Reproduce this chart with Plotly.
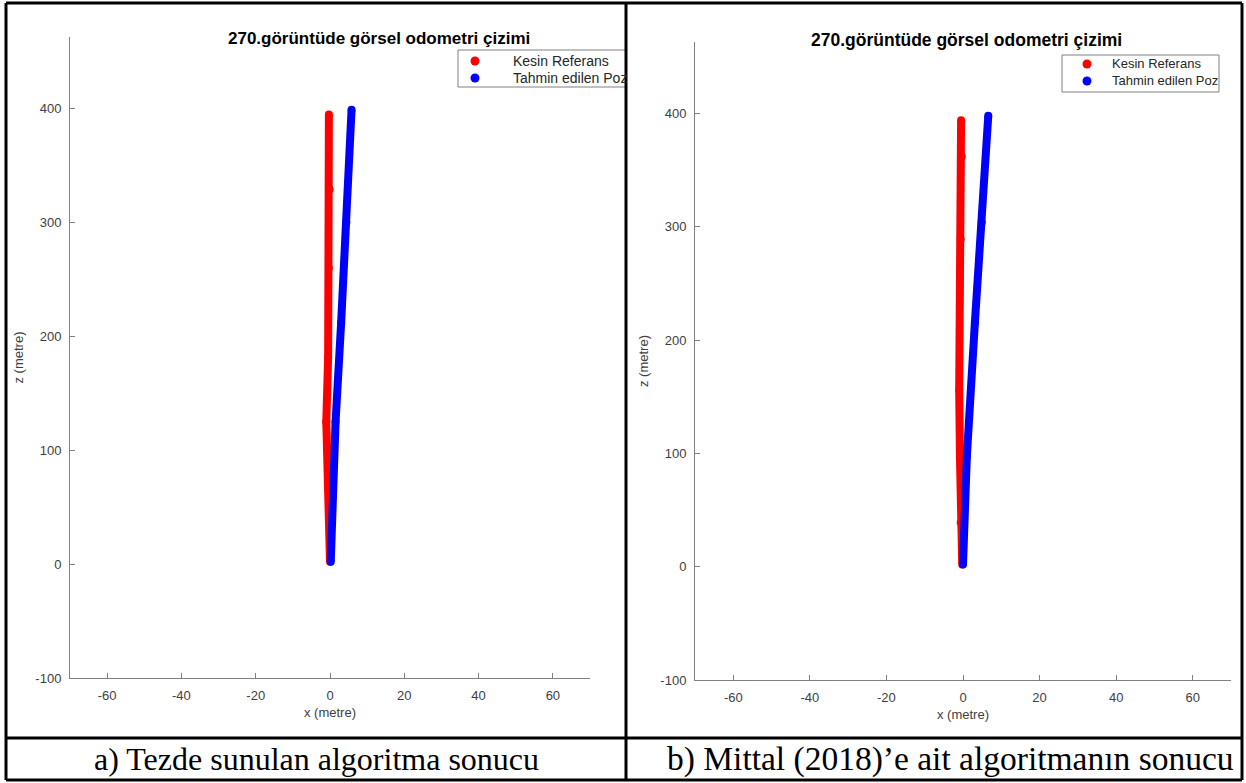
import plotly.graph_objects as go

W, H = 1246, 783
FIG_H = 791  # the capture shows a slightly taller page, squeezed to 783

# ---------------- data ----------------
# panel a) Tezde sunulan algoritma
z_ref_a = [2, 66, 125, 182, 260, 329, 395]
x_ref_a = [0.0, -0.4, -1.0, -0.5, -0.3, -0.1, -0.3]
z_est_a = [2, 66, 125, 212, 300, 399]
x_est_a = [0.2, 0.8, 1.5, 3.0, 4.4, 5.8]
# panel b) Mittal (2018)
z_ref_b = [2, 39, 97, 156, 289, 362, 394]
x_ref_b = [-0.2, -0.6, -0.8, -1.0, -0.6, -0.3, -0.5]
z_est_b = [2, 97, 215, 304, 398]
x_est_b = [0.0, 1.0, 3.1, 4.9, 6.6]

x_ticks = [-60, -40, -20, 0, 20, 40, 60]
y_ticks = [-100, 0, 100, 200, 300, 400]
series_names = ["Kesin Referans", "Tahmin edilen Poz"]
series_colors = ["#ff0000", "#0000ff"]
plot_title = "270.görüntüde görsel odometri çizimi"
captions = ["a) Tezde sunulan algoritma sonucu", "b) Mittal (2018)’e ait algoritmanın sonucu"]


def px_x(p):
    return p / W


def px_y(p):
    return 1 - p / H


fig = go.Figure()

panels = [
    dict(xa="x", ya="y", data=[(x_ref_a, z_ref_a), (x_est_a, z_est_a)]),
    dict(xa="x2", ya="y2", data=[(x_ref_b, z_ref_b), (x_est_b, z_est_b)]),
]
for p in panels:
    for (xs, zs), name, col in zip(p["data"], series_names, series_colors):
        fig.add_trace(go.Scatter(x=xs, y=zs, mode="lines+markers", xaxis=p["xa"], yaxis=p["ya"],
                                 line=dict(color=col, width=8), marker=dict(color=col, size=8),
                                 name=name, showlegend=False, hoverinfo="skip"))

tick_font = dict(family="Liberation Sans", size=13, color="#404040")
axis_common = dict(showgrid=False, zeroline=False, showline=True, linecolor="#808080", linewidth=1,
                   ticks="inside", ticklen=5, tickcolor="#808080", mirror=False,
                   tickfont=tick_font, ticklabelstandoff=5)
x_ticktext = [str(v) for v in x_ticks]
y_ticktext = [str(v) for v in y_ticks]

xr = [-70, 70]
yr = [-100, 463]
# panel geometry (pixels in the reference)
a_l, a_r, a_t, a_b = 70, 590, 37, 678
b_l, b_r, b_t, b_b = 695, 1231, 42, 680

title_font = dict(family="Liberation Sans", size=13, color="#404040")

fig.update_layout(
    width=W, height=FIG_H, margin=dict(l=0, r=0, t=0, b=0),
    paper_bgcolor="white", plot_bgcolor="white", showlegend=False,
    xaxis=dict(domain=[px_x(a_l), px_x(a_r)], range=xr, tickvals=x_ticks, ticktext=x_ticktext, anchor="y",
               title=dict(text="x (metre)", standoff=6, font=title_font), **axis_common),
    yaxis=dict(domain=[px_y(a_b), px_y(a_t)], range=yr, tickvals=y_ticks, ticktext=y_ticktext, anchor="x",
               title=dict(text="z (metre)", standoff=8, font=title_font), **axis_common),
    xaxis2=dict(domain=[px_x(b_l), px_x(b_r)], range=xr, tickvals=x_ticks, ticktext=x_ticktext, anchor="y2",
                title=dict(text="x (metre)", standoff=6, font=title_font), **axis_common),
    yaxis2=dict(domain=[px_y(b_b), px_y(b_t)], range=yr, tickvals=y_ticks, ticktext=y_ticktext, anchor="x2",
                title=dict(text="z (metre)", standoff=8, font=title_font), **axis_common),
)

# legends (MATLAB style box with dot markers)
legends = [
    dict(box=(458, 50, 626, 87), mx=475, tx=511, ys=[61, 78], fs=14),
    dict(box=(1062, 55, 1219, 92), mx=1087, tx=1110, ys=[64, 81], fs=13),
]
for lg in legends:
    x0, y0, x1, y1 = lg["box"]
    fig.add_shape(type="rect", xref="paper", yref="paper", x0=px_x(x0), y0=px_y(y1), x1=px_x(x1), y1=px_y(y0),
                  fillcolor="white", line=dict(color="#808080", width=1), layer="above")
    for yy, name, col in zip(lg["ys"], series_names, series_colors):
        r = 4.5
        fig.add_shape(type="circle", xref="paper", yref="paper",
                      x0=px_x(lg["mx"] - r), x1=px_x(lg["mx"] + r), y0=px_y(yy + r), y1=px_y(yy - r),
                      fillcolor=col, line=dict(color=col, width=0), layer="above")
        fig.add_annotation(text=name, xref="paper", yref="paper", x=px_x(lg["tx"]), y=px_y(yy),
                           xanchor="left", yanchor="middle", showarrow=False,
                           font=dict(family="Liberation Sans", size=lg["fs"], color="#262626"))

# titles
for cx, cy, fs in [(379, 38, 17), (967, 40, 17.5)]:
    fig.add_annotation(text="<b>" + plot_title + "</b>", xref="paper", yref="paper", x=px_x(cx), y=px_y(cy),
                       xanchor="center", yanchor="middle", showarrow=False,
                       font=dict(family="Liberation Sans", size=fs, color="#000000"))

# captions
for cx, txt, fs in [(316, captions[0], 32), (950, captions[1], 33.5)]:
    fig.add_annotation(text=txt, xref="paper", yref="paper", x=px_x(cx), y=px_y(759),
                       xanchor="center", yanchor="middle", showarrow=False,
                       font=dict(family="Liberation Serif", size=fs, color="#000000"))

# table borders
lw = 3
lines = [
    (6, 3, 1242, 3),      # top
    (6, 3, 6, 780),       # left
    (1242, 3, 1242, 780), # right
    (6, 780, 1242, 780),  # bottom
    (626, 3, 626, 780),   # middle
    (6, 738, 1242, 738),  # caption separator
]
for x0, y0, x1, y1 in lines:
    fig.add_shape(type="line", xref="paper", yref="paper", x0=px_x(x0), y0=px_y(y0), x1=px_x(x1), y1=px_y(y1),
                  line=dict(color="black", width=lw), layer="above")

page_css = (
    "var de=document.documentElement, b=document.body;"
    "de.style.margin='0';de.style.padding='0';"
    "b.style.margin='0';b.style.padding='0';"
)
fig.write_html("out.html", config={"displayModeBar": False}, post_script=page_css)
